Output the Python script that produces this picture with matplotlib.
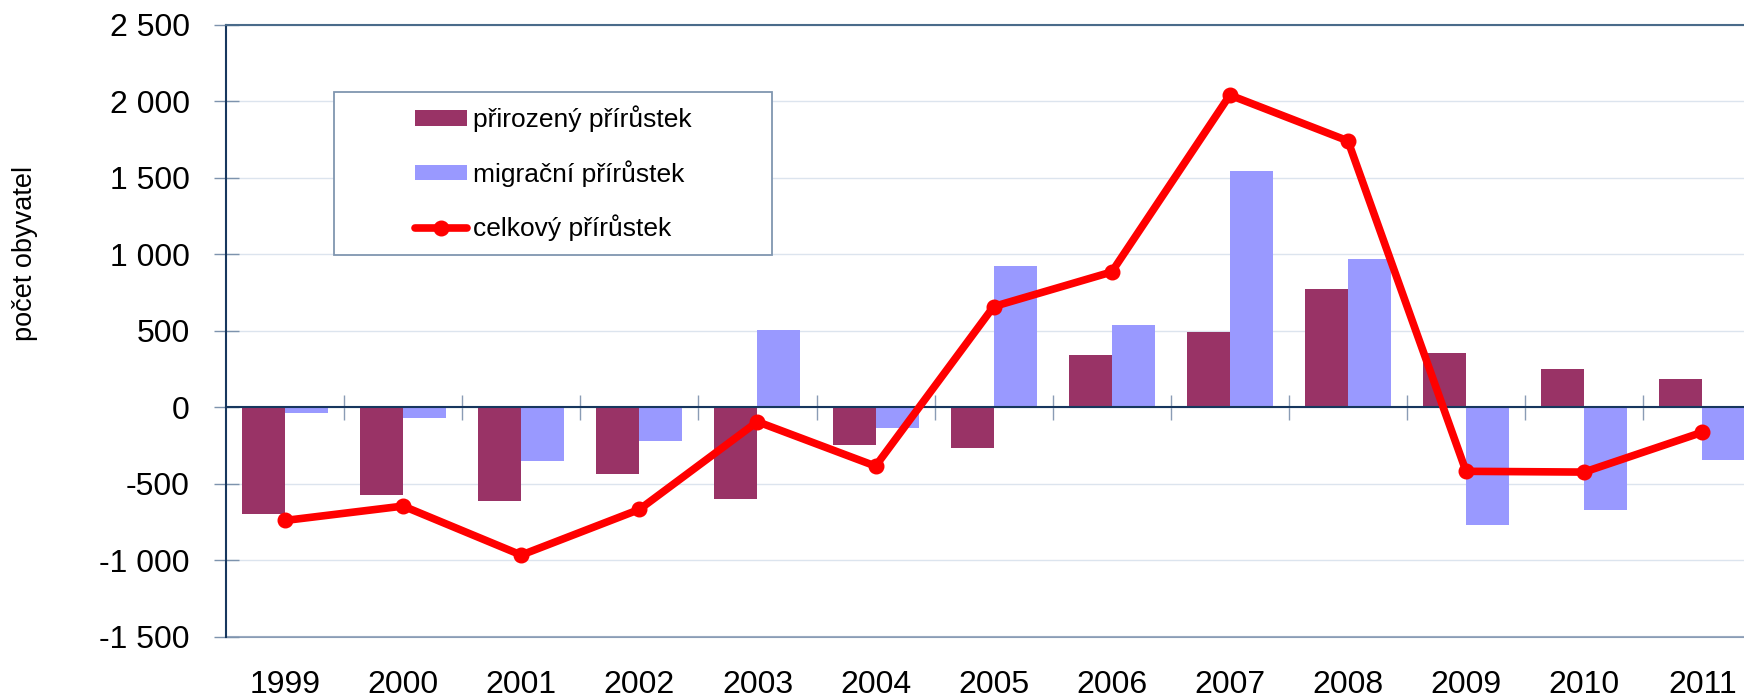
import numpy as np
import matplotlib
matplotlib.use("Agg")
import matplotlib.pyplot as plt
from matplotlib.patches import Rectangle
from matplotlib.ticker import FuncFormatter

plt.rcParams['font.family'] = ['Liberation Sans', 'DejaVu Sans']
plt.rcParams['axes.unicode_minus'] = False

years = ['1999', '2000', '2001', '2002', '2003', '2004', '2005',
         '2006', '2007', '2008', '2009', '2010', '2011']
prirozeny = [-695, -573, -610, -438, -600, -246, -268, 342, 494, 771, 355, 252, 183]
migracni = [-39, -68, -351, -223, 505, -133, 923, 538, 1542, 967, -771, -673, -346]
celkovy = [-739, -645, -965, -667, -94, -384, 658, 884, 2039, 1740, -418, -423, -163]

label_nat = 'přirozený přírůstek'
label_mig = 'migrační přírůstek'
label_tot = 'celkový přírůstek'

W, H = 1744, 700
fig = plt.figure(figsize=(W / 100, H / 100), dpi=100)
ax_left, ax_top, ax_bottom = 226, 24.5, 637
cat_w = 118.1
ax_right = ax_left + cat_w * len(years)
ax = fig.add_axes([ax_left / W, 1 - ax_bottom / H, (ax_right - ax_left) / W,
                   (ax_bottom - ax_top) / H])

x = np.arange(len(years))
bw = 0.364
b1 = ax.bar(x - bw / 2, prirozeny, bw, color='#993366', label=label_nat, zorder=2)
b2 = ax.bar(x + bw / 2, migracni, bw, color='#9999FF', label=label_mig, zorder=2)
l1, = ax.plot(x, celkovy, color='#FF0000', lw=5.5, marker='o', ms=10.5,
              label=label_tot, zorder=3, solid_capstyle='round')

ax.set_xlim(-0.5, len(years) - 0.5)
ax.set_ylim(-1500, 2500)
ax.set_yticks(np.arange(-1500, 2501, 500))
ax.yaxis.set_major_formatter(FuncFormatter(
    lambda v, p: f"{v:,.0f}".replace(',', ' ')))
ax.tick_params(axis='y', direction='inout', length=18, width=1,
               color='#7d93ad', labelsize=23, pad=17)
ax.yaxis.grid(True, color='#dce4ee', lw=1, zorder=0)
ax.set_axisbelow(True)

navy = '#17375e'
ax.spines['left'].set_color(navy)
ax.spines['left'].set_linewidth(1.5)
ax.spines['right'].set_visible(False)
ax.spines['top'].set_color('#4a6b8a')
ax.spines['top'].set_linewidth(1.5)
ax.spines['bottom'].set_position(('data', 0))
ax.spines['bottom'].set_color(navy)
ax.spines['bottom'].set_linewidth(1.5)
ax.spines['bottom'].set_zorder(2.5)

ax.set_xticks(x)
ax.set_xticklabels([])
ax.tick_params(axis='x', which='major', length=0)
ax.set_xticks(x[:-1] + 0.5, minor=True)
ax.tick_params(axis='x', which='minor', direction='inout', length=18,
               width=1, color='#8a9cb5')

sec = ax.secondary_xaxis('bottom')
sec.set_xticks(x)
sec.set_xticklabels(years)
sec.tick_params(axis='x', length=0, labelsize=23, pad=24)
sec.spines['bottom'].set_color('#8a9cb5')
sec.spines['bottom'].set_linewidth(1.5)

fig.text(25 / W, 1 - 253 / H, 'počet obyvatel', rotation=90,
         ha='center', va='center', fontsize=19.5)

# legend box
bx0, by0, bx1, by1 = 334, 92, 772, 255
rect = Rectangle((bx0 / W, 1 - by1 / H), (bx1 - bx0) / W, (by1 - by0) / H,
                 transform=fig.transFigure, facecolor='white',
                 edgecolor='#8096b0', lw=1.3, zorder=4, clip_on=False)
ax.add_artist(rect)
leg = ax.legend([b1, b2, l1], [label_nat, label_mig, label_tot],
                loc='center', bbox_to_anchor=((bx0 + bx1) / 2 / W, 1 - (by0 + by1) / 2 / H),
                bbox_transform=fig.transFigure, frameon=False, fontsize=19,
                handlelength=2.0, handleheight=0.55, handletextpad=0.2,
                labelspacing=1.05, numpoints=1, borderpad=0)
leg.set_zorder(5)

fig.savefig('out.png', dpi=100)
